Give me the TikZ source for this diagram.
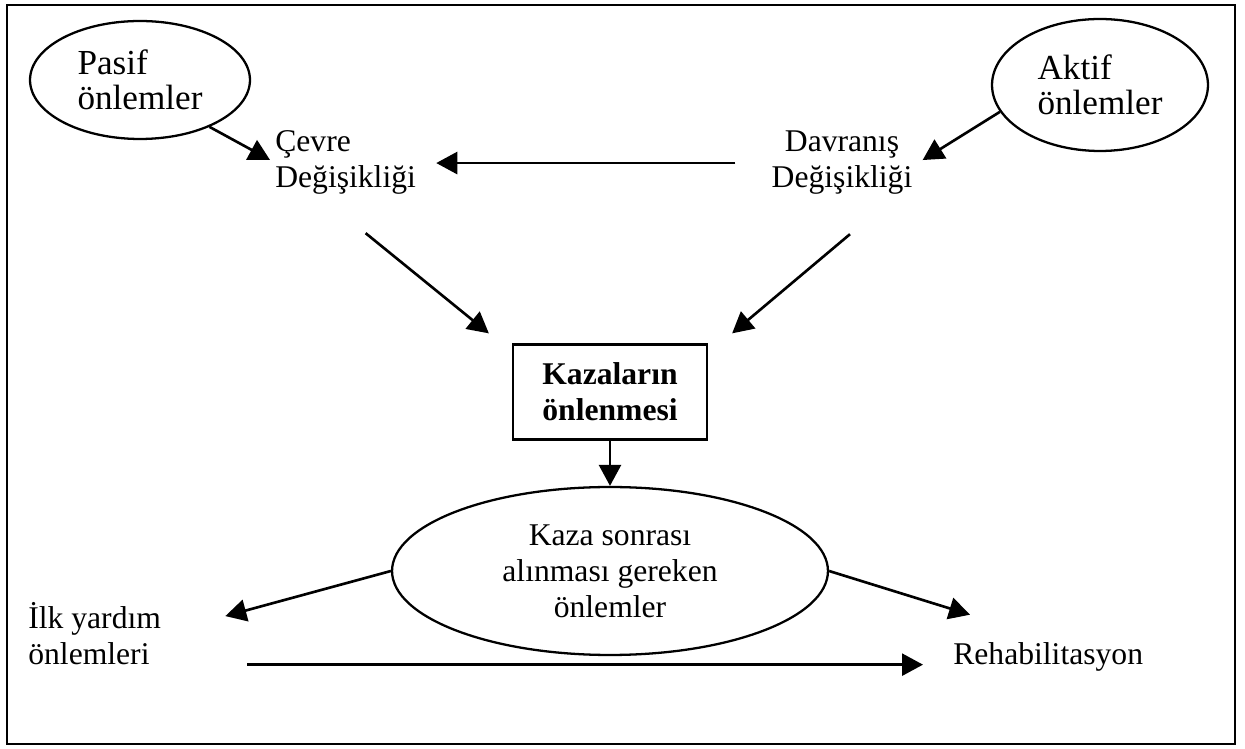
\documentclass[tikz,border=0pt]{standalone}
\usepackage{fontspec}
\setmainfont{Liberation Serif}
\usetikzlibrary{shapes.geometric, arrows.meta, positioning, calc}
\tikzstyle{measure} = [ellipse, draw=black, line width=1.3pt, align=left, inner sep=0pt]
\tikzstyle{change} = [align=left, inner sep=0.1cm]
\tikzstyle{goal} = [rectangle, draw=black, line width=1.3pt, align=left, minimum width=3.88cm, minimum height=1.9cm, font=\fontsize{18pt}{20.5pt}\selectfont\bfseries]
\tikzstyle{arrow} = [line width=1.5pt, -{Triangle[length=4.2mm, width=4.4mm]}]

\begin{document}
\begin{tikzpicture}[x=0.02cm, y=-0.02cm, font=\fontsize{18pt}{20.5pt}\selectfont]
\useasboundingbox (0,0) rectangle (1245,749);
\draw[line width=1.3pt] (7,5) rectangle (1235,744);

\node (pasif) [measure, font=\fontsize{20pt}{20pt}\selectfont, minimum width=4.4cm, minimum height=2.36cm] at (140,80) {Pasif\\önlemler};
\node (aktif) [measure, font=\fontsize{20pt}{20pt}\selectfont, minimum width=4.32cm, minimum height=2.64cm] at (1100,85) {Aktif\\önlemler};
\node (cevre) [change, anchor=base west] at (270,188) {Çevre\\Değişikliği};
\node (davranis) [change, align=center, anchor=base] at (842,188) {Davranış\\Değişikliği};
\node (box) [goal] at (610,392) {Kazaların\\önlenmesi};
\node (kaza) [measure, align=center, minimum width=8.72cm, minimum height=3.36cm] at (610,571) {Kaza sonrası\\alınması gereken\\önlemler};
\node (ilk) [change, anchor=base west] at (23,665) {İlk yardım\\önlemleri};
\node (rehab) [change, anchor=base west] at (948,665) {Rehabilitasyon};
\coordinate (ilkend) at ($(ilk.south east)+(81,-6)$);

% Arrows
\draw [arrow] (pasif.-34) -- ($(cevre.west)+(0,-3)$);
\draw [arrow] (aktif.195) -- ($(davranis.east)+(5,-3)$);
\draw [arrow, shorten <=0.62cm, shorten >=0.3cm] (davranis.west) -- (davranis.west -| cevre.east);
\draw [arrow] ($(cevre.south)+(20,33)$) -- ($(box.north west)+(-23,-10)$);
\draw [arrow] ($(davranis.south)+(8,34)$) -- ($(box.north east)+(24,-10)$);
\draw [arrow] (box) -- (kaza);
\draw [arrow] (kaza.west) -- ($(ilk.east)+(59,-18)$);
\draw [arrow] (kaza.east) -- ($(rehab.north west)+(22,-23)$);
\draw [arrow, shorten >=0.5cm] (ilkend) -- (ilkend -| rehab.west);

\end{tikzpicture}
\end{document}
